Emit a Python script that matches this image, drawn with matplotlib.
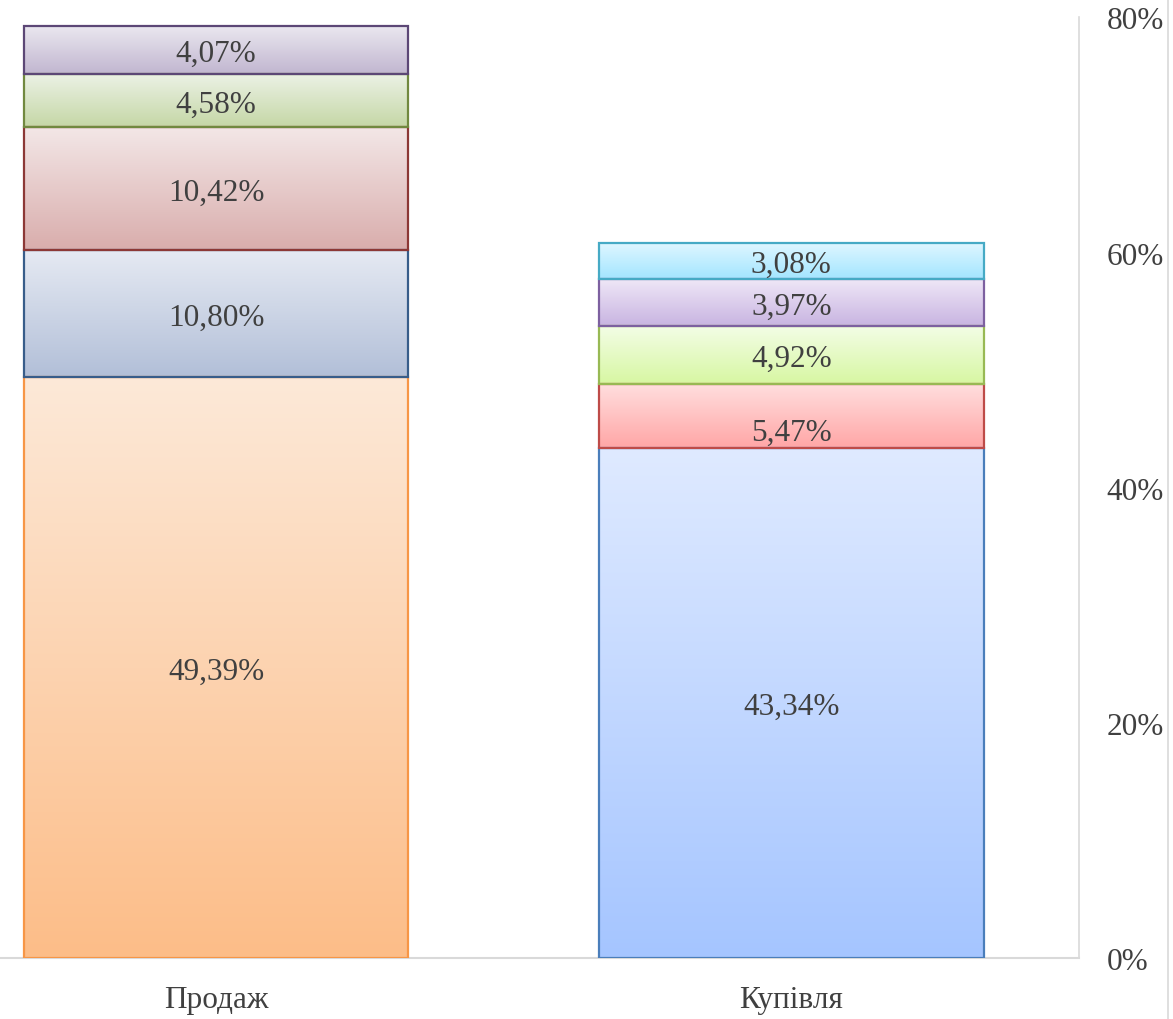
import numpy as np
import matplotlib
matplotlib.use("Agg")
import matplotlib.pyplot as plt
from matplotlib.colors import to_rgb
from matplotlib.lines import Line2D
from matplotlib.transforms import ScaledTranslation

plt.rcParams['font.family'] = ['Liberation Serif', 'DejaVu Serif']

categories = ["Продаж", "Купівля"]
prodazh_values = [49.39, 10.80, 10.42, 4.58, 4.07]
kupivlia_values = [43.34, 5.47, 4.92, 3.97, 3.08]
prodazh_labels = ["49,39%", "10,80%", "10,42%", "4,58%", "4,07%"]
kupivlia_labels = ["43,34%", "5,47%", "4,92%", "3,97%", "3,08%"]
y_ticks = [0, 20, 40, 60, 80]
y_tick_labels = ["0%", "20%", "40%", "60%", "80%"]

# (top colour, bottom colour, edge colour)
prodazh_styles = [
    ("#FDE9D8", "#FCBD88", "#F79646"),
    ("#E6EAF3", "#B2BFD8", "#385D8A"),
    ("#F3E7E7", "#D9ADAC", "#8C3836"),
    ("#ECF2E6", "#C5D7A6", "#71893F"),
    ("#EAE7EF", "#C1B6D0", "#5C4776"),
]
kupivlia_styles = [
    ("#DFEAFF", "#A5C5FF", "#4A7EBB"),
    ("#FFDFDF", "#FFA6A6", "#BE4B48"),
    ("#F3FDE6", "#D7F7A2", "#98B954"),
    ("#EFE7F7", "#C8B4E1", "#7D60A0"),
    ("#E0F7FF", "#A3E5FF", "#46AAC5"),
]
# extra downward nudge of individual labels (pixels), as placed in the original
prodazh_label_nudge = [0, 0, 0, 0, 0]
kupivlia_label_nudge = [0, 13, 0, 0, 0]

W, H = 1173, 1019
fig = plt.figure(figsize=(W / 100, H / 100), dpi=100)
ax = fig.add_axes([-71.5 / W, 61 / H, 1150.5 / W, 941 / H])

text_color = "#404040"
bar_width = 0.668
base_shift = 4.5  # px


def gradient_bar(x, bottom, val, style, label, nudge):
    top_c, bot_c, edge_c = style
    bars = ax.bar([x], [val], bottom=[bottom], width=bar_width,
                  facecolor="none", edgecolor=edge_c, linewidth=1.6, zorder=3)
    rect = bars[0]
    x0 = rect.get_x()
    x1 = x0 + rect.get_width()
    y0 = rect.get_y()
    y1 = y0 + rect.get_height()
    n = 256
    t = np.linspace(0, 1, n)[:, None]
    c_top = np.array(to_rgb(top_c))
    c_bot = np.array(to_rgb(bot_c))
    img = (c_bot[None, None, :] * (1 - t[..., None]) + c_top[None, None, :] * t[..., None])
    img = np.repeat(img, 2, axis=1)
    im = ax.imshow(img, extent=[x0, x1, y0, y1], origin="lower",
                   aspect="auto", zorder=2, interpolation="bilinear")
    im.set_clip_path(rect)
    tr = ax.transData + ScaledTranslation(0, -(base_shift + nudge) / 100, fig.dpi_scale_trans)
    ax.text(x, bottom + val / 2, label, ha="center", va="center",
            fontsize=22.5, color=text_color, zorder=4, transform=tr)


for xi, (vals, labs, styles, nudges) in enumerate([
        (prodazh_values, prodazh_labels, prodazh_styles, prodazh_label_nudge),
        (kupivlia_values, kupivlia_labels, kupivlia_styles, kupivlia_label_nudge)]):
    bottom = 0.0
    for v, lab, st, nd in zip(vals, labs, styles, nudges):
        gradient_bar(xi, bottom, v, st, lab, nd)
        bottom += v

ax.set_xlim(-0.5, 1.5)
ax.set_ylim(0, 80)
ax.set_xticks([0, 1])
ax.set_xticklabels(categories, fontsize=22.5, color=text_color)
ax.tick_params(axis="x", length=0, pad=20)

ax.yaxis.tick_right()
ax.set_yticks(y_ticks)
ax.set_yticklabels(y_tick_labels, fontsize=22.5, color=text_color, ha="left")
ax.tick_params(axis="y", length=0, pad=27)
shift = ScaledTranslation(-10 / 100, -5 / 100, fig.dpi_scale_trans)
for lbl in ax.get_yticklabels():
    lbl.set_verticalalignment("center")
    lbl.set_transform(lbl.get_transform() + shift)

for s in ["top", "left"]:
    ax.spines[s].set_visible(False)
ax.spines["right"].set_color("#D9D9D9")
ax.spines["right"].set_linewidth(1.2)
ax.spines["bottom"].set_color("#D9D9D9")
ax.spines["bottom"].set_linewidth(1.5)
ax.set_facecolor("white")

# chart border on the right edge
fig.add_artist(Line2D([1168 / W, 1168 / W], [0, 1], transform=fig.transFigure,
                      color="#D9D9D9", linewidth=1.2))

fig.savefig("out.png", dpi=100)
